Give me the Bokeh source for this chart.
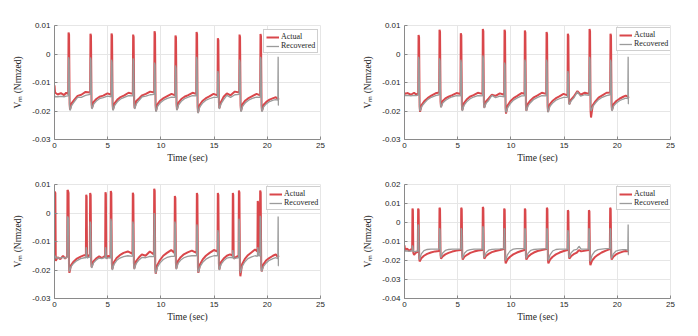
from bokeh.plotting import figure
from bokeh.models import Range1d, Legend, LegendItem, ColumnDataSource
from bokeh.layouts import column, row
from bokeh.embed import file_html
from bokeh.resources import INLINE

# ---------------- data ----------------
series_names = ["Actual", "Recovered"]
x_ticks = [0, 5, 10, 15, 20, 25]
y_ticks_a = [-0.03, -0.02, -0.01, 0, 0.01]
y_labels_a = ["-0.03", "-0.02", "-0.01", "0", "0.01"]
y_ticks_b = [-0.04, -0.03, -0.02, -0.01, 0, 0.01, 0.02]
y_labels_b = ["-0.04", "-0.03", "-0.02", "-0.01", "0", "0.01", "0.02"]
x_label = "Time (sec)"
y_label = "V\u2098 (Nrmzed)"

# Panel 1 (top left)
t1 = [0.00, 0.05, 0.30, 0.60, 0.90, 1.10, 1.29,
      1.32, 1.37, 1.42, 1.46, 1.62, 1.87, 2.17, 2.52, 2.92, 3.35,
      3.38, 3.43, 3.48, 3.52, 3.68, 3.93, 4.23, 4.58, 4.98, 5.33,
      5.36, 5.41, 5.46, 5.50, 5.66, 5.91, 6.21, 6.56, 6.96, 7.36,
      7.39, 7.44, 7.49, 7.53, 7.69, 7.94, 8.24, 8.59, 8.99, 9.37,
      9.40, 9.45, 9.50, 9.54, 9.70, 9.95, 10.25, 10.60, 11.00, 11.34,
      11.37, 11.42, 11.47, 11.51, 11.67, 11.92, 12.22, 12.57, 12.97, 13.32,
      13.35, 13.40, 13.45, 13.49, 13.65, 13.90, 14.20, 14.55, 14.95, 15.32,
      15.35, 15.40, 15.45, 15.49, 15.65, 15.90, 16.20, 16.55, 16.95, 17.36,
      17.39, 17.44, 17.49, 17.53, 17.69, 17.94, 18.24, 18.59, 18.99, 19.33,
      19.36, 19.41, 19.46, 19.50, 19.66, 19.91, 20.21, 20.56, 20.80, 20.99,
      21.02, 21.04, 21.06]
act1 = [-0.0110, -0.0135, -0.0142, -0.0137, -0.0144, -0.0136, -0.0140,
        0.0075, 0.0068, -0.0175, -0.0195, -0.0172, -0.0160, -0.0147, -0.0143, -0.0133, -0.0135,
        0.0071, 0.0064, -0.0170, -0.0190, -0.0168, -0.0158, -0.0150, -0.0146, -0.0138, -0.0143,
        0.0072, 0.0065, -0.0175, -0.0195, -0.0172, -0.0160, -0.0151, -0.0145, -0.0136, -0.0140,
        0.0068, 0.0060, -0.0170, -0.0190, -0.0165, -0.0156, -0.0145, -0.0140, -0.0132, -0.0135,
        0.0080, 0.0072, -0.0180, -0.0200, -0.0175, -0.0163, -0.0155, -0.0148, -0.0140, -0.0145,
        0.0065, 0.0058, -0.0175, -0.0195, -0.0170, -0.0158, -0.0150, -0.0144, -0.0136, -0.0140,
        0.0077, 0.0070, -0.0185, -0.0205, -0.0178, -0.0165, -0.0156, -0.0149, -0.0140, -0.0145,
        0.0055, 0.0048, -0.0170, -0.0190, -0.0168, -0.0150, -0.0138, -0.0145, -0.0132, -0.0135,
        0.0068, 0.0060, -0.0180, -0.0200, -0.0175, -0.0163, -0.0155, -0.0148, -0.0140, -0.0145,
        0.0070, 0.0062, -0.0180, -0.0200, -0.0178, -0.0168, -0.0160, -0.0155, -0.0152, -0.0157,
        -0.0155, -0.0160, -0.0160]
rec1 = [-0.0145, -0.0150, -0.0150, -0.0149, -0.0150, -0.0148, -0.0147,
        -0.0011, -0.0020, -0.0185, -0.0198, -0.0180, -0.0167, -0.0152, -0.0152, -0.0145, -0.0142,
        -0.0012, -0.0022, -0.0180, -0.0193, -0.0176, -0.0165, -0.0157, -0.0153, -0.0148, -0.0150,
        -0.0020, -0.0030, -0.0185, -0.0198, -0.0180, -0.0168, -0.0158, -0.0152, -0.0146, -0.0147,
        -0.0015, -0.0025, -0.0180, -0.0193, -0.0175, -0.0163, -0.0150, -0.0148, -0.0143, -0.0142,
        -0.0030, -0.0040, -0.0190, -0.0203, -0.0183, -0.0171, -0.0162, -0.0156, -0.0151, -0.0152,
        -0.0040, -0.0050, -0.0185, -0.0198, -0.0178, -0.0166, -0.0157, -0.0151, -0.0146, -0.0147,
        -0.0010, -0.0020, -0.0195, -0.0208, -0.0186, -0.0173, -0.0163, -0.0157, -0.0152, -0.0152,
        -0.0060, -0.0070, -0.0180, -0.0193, -0.0175, -0.0160, -0.0145, -0.0152, -0.0143, -0.0142,
        -0.0020, -0.0030, -0.0190, -0.0203, -0.0183, -0.0171, -0.0162, -0.0156, -0.0151, -0.0152,
        -0.0010, -0.0020, -0.0190, -0.0203, -0.0185, -0.0175, -0.0167, -0.0162, -0.0160, -0.0162,
        -0.0010, -0.0180, -0.0180]

# Panel 2 (top right)
t2 = [0.00, 0.05, 0.30, 0.60, 0.90, 1.10, 1.29,
      1.32, 1.37, 1.42, 1.46, 1.62, 1.87, 2.17, 2.52, 2.92, 3.26,
      3.29, 3.34, 3.39, 3.43, 3.59, 3.84, 4.14, 4.49, 4.89, 5.26,
      5.29, 5.34, 5.39, 5.43, 5.59, 5.84, 6.14, 6.49, 6.89, 7.33,
      7.36, 7.41, 7.46, 7.50, 7.66, 7.91, 8.21, 8.56, 8.96, 9.37,
      9.40, 9.45, 9.50, 9.54, 9.70, 9.95, 10.25, 10.60, 11.00, 11.28,
      11.31, 11.36, 11.41, 11.45, 11.61, 11.86, 12.16, 12.51, 12.91, 13.32,
      13.35, 13.40, 13.45, 13.49, 13.65, 13.90, 14.20, 14.55, 14.95, 15.32,
      15.35, 15.40, 15.45, 15.49, 15.65, 15.90, 16.25, 16.55, 16.95, 17.36,
      17.39, 17.44, 17.49, 17.53, 17.69, 17.94, 18.24, 18.59, 18.99, 19.33,
      19.36, 19.41, 19.46, 19.50, 19.66, 19.91, 20.21, 20.56, 20.80, 20.99,
      21.02, 21.04, 21.06]
act2 = [-0.0135, -0.0140, -0.0137, -0.0143, -0.0136, -0.0142, -0.0138,
        0.0067, 0.0060, -0.0183, -0.0203, -0.0178, -0.0165, -0.0155, -0.0146, -0.0138, -0.0135,
        0.0085, 0.0078, -0.0166, -0.0186, -0.0165, -0.0156, -0.0150, -0.0144, -0.0137, -0.0140,
        0.0073, 0.0066, -0.0177, -0.0197, -0.0172, -0.0160, -0.0150, -0.0144, -0.0136, -0.0140,
        0.0088, 0.0080, -0.0168, -0.0188, -0.0166, -0.0156, -0.0143, -0.0147, -0.0138, -0.0143,
        0.0085, 0.0078, -0.0189, -0.0209, -0.0180, -0.0166, -0.0155, -0.0147, -0.0137, -0.0140,
        0.0082, 0.0075, -0.0179, -0.0199, -0.0174, -0.0162, -0.0152, -0.0145, -0.0136, -0.0140,
        0.0077, 0.0070, -0.0183, -0.0203, -0.0177, -0.0165, -0.0156, -0.0149, -0.0140, -0.0145,
        0.0071, 0.0064, -0.0160, -0.0176, -0.0160, -0.0150, -0.0130, -0.0143, -0.0136, -0.0140,
        0.0088, 0.0080, -0.0200, -0.0223, -0.0180, -0.0166, -0.0153, -0.0145, -0.0136, -0.0135,
        0.0071, 0.0064, -0.0177, -0.0197, -0.0175, -0.0165, -0.0157, -0.0150, -0.0146, -0.0150,
        -0.0150, -0.0155, -0.0155]
rec2 = [-0.0145, -0.0146, -0.0145, -0.0147, -0.0145, -0.0146, -0.0144,
        -0.0010, -0.0020, -0.0193, -0.0200, -0.0184, -0.0172, -0.0160, -0.0152, -0.0146, -0.0143,
        -0.0015, -0.0025, -0.0176, -0.0188, -0.0172, -0.0163, -0.0156, -0.0150, -0.0146, -0.0147,
        -0.0020, -0.0030, -0.0187, -0.0200, -0.0180, -0.0168, -0.0158, -0.0151, -0.0146, -0.0147,
        -0.0005, -0.0015, -0.0178, -0.0190, -0.0173, -0.0163, -0.0145, -0.0153, -0.0148, -0.0150,
        -0.0030, -0.0040, -0.0199, -0.0205, -0.0188, -0.0174, -0.0162, -0.0154, -0.0147, -0.0147,
        -0.0020, -0.0030, -0.0189, -0.0200, -0.0182, -0.0170, -0.0159, -0.0152, -0.0146, -0.0147,
        -0.0020, -0.0030, -0.0193, -0.0205, -0.0185, -0.0173, -0.0163, -0.0157, -0.0152, -0.0152,
        -0.0060, -0.0070, -0.0168, -0.0178, -0.0165, -0.0155, -0.0133, -0.0148, -0.0143, -0.0145,
        -0.0010, -0.0020, -0.0190, -0.0200, -0.0185, -0.0172, -0.0160, -0.0152, -0.0146, -0.0143,
        -0.0020, -0.0030, -0.0187, -0.0200, -0.0182, -0.0172, -0.0164, -0.0158, -0.0155, -0.0157,
        -0.0010, -0.0175, -0.0175]

# Panel 3 (bottom left)
t3 = [0.00, 0.03, 0.08, 0.12, 0.30, 0.55, 0.80, 1.00, 1.19,
      1.22, 1.27, 1.32, 1.36, 1.40, 1.56, 1.81, 2.11, 2.46, 2.80, 2.95,
      2.98, 3.02, 3.06, 3.20, 3.32,
      3.35, 3.40, 3.45, 3.49, 3.65, 3.90, 4.20, 4.45, 4.76,
      4.79, 4.83, 4.87, 5.05, 5.26,
      5.29, 5.34, 5.39, 5.43, 5.59, 5.84, 6.14, 6.49, 6.89, 7.33,
      7.36, 7.41, 7.46, 7.50, 7.66, 7.91, 8.21, 8.56, 8.96, 9.34,
      9.37, 9.42, 9.47, 9.51, 9.67, 9.92, 10.22, 10.57, 10.97, 11.28,
      11.31, 11.36, 11.41, 11.45, 11.61, 11.86, 12.16, 12.51, 12.91, 13.35,
      13.38, 13.43, 13.48, 13.52, 13.68, 13.93, 14.23, 14.58, 14.98, 15.32,
      15.35, 15.40, 15.45, 15.49, 15.65, 15.90, 16.20, 16.50, 16.73,
      16.76, 16.80, 16.84, 17.05, 17.30,
      17.33, 17.38, 17.43, 17.47, 17.63, 17.88, 18.18, 18.53, 18.85, 19.07,
      19.10, 19.14, 19.18, 19.30,
      19.33, 19.38, 19.43, 19.47, 19.63, 19.88, 20.18, 20.53, 20.80, 20.99,
      21.02, 21.04, 21.06]
act3 = [-0.0120, 0.0075, 0.0070, -0.0168, -0.0155, -0.0162, -0.0150, -0.0160, -0.0152,
        0.0081, 0.0078, 0.0070, -0.0180, -0.0210, -0.0183, -0.0170, -0.0160, -0.0153, -0.0148, -0.0150,
        0.0064, 0.0058, -0.0155, -0.0150, -0.0145,
        0.0070, 0.0063, -0.0170, -0.0190, -0.0170, -0.0160, -0.0152, -0.0158, -0.0150,
        0.0073, 0.0066, -0.0160, -0.0150, -0.0155,
        0.0077, 0.0070, -0.0177, -0.0197, -0.0172, -0.0158, -0.0148, -0.0140, -0.0135, -0.0143,
        0.0071, 0.0064, -0.0175, -0.0195, -0.0170, -0.0157, -0.0145, -0.0150, -0.0135, -0.0145,
        0.0085, 0.0078, -0.0193, -0.0213, -0.0182, -0.0165, -0.0150, -0.0140, -0.0130, -0.0140,
        0.0060, 0.0053, -0.0175, -0.0195, -0.0168, -0.0155, -0.0145, -0.0138, -0.0132, -0.0140,
        0.0070, 0.0063, -0.0190, -0.0210, -0.0180, -0.0163, -0.0150, -0.0140, -0.0130, -0.0135,
        0.0070, 0.0063, -0.0178, -0.0198, -0.0172, -0.0160, -0.0150, -0.0145, -0.0150,
        0.0070, 0.0063, -0.0160, -0.0155, -0.0150,
        0.0079, 0.0072, -0.0202, -0.0222, -0.0180, -0.0162, -0.0148, -0.0138, -0.0128, -0.0135,
        0.0042, 0.0036, -0.0140, -0.0135,
        0.0079, 0.0072, -0.0185, -0.0205, -0.0180, -0.0167, -0.0158, -0.0150, -0.0145, -0.0155,
        -0.0150, -0.0155, -0.0155]
rec3 = [-0.0155, -0.0150, -0.0152, -0.0158, -0.0157, -0.0158, -0.0156, -0.0158, -0.0156,
        -0.0012, -0.0015, -0.0020, -0.0190, -0.0205, -0.0188, -0.0176, -0.0167, -0.0160, -0.0157, -0.0157,
        -0.0120, -0.0130, -0.0158, -0.0156, -0.0155,
        -0.0030, -0.0040, -0.0180, -0.0193, -0.0176, -0.0166, -0.0158, -0.0160, -0.0156,
        -0.0120, -0.0130, -0.0160, -0.0157, -0.0158,
        -0.0020, -0.0030, -0.0187, -0.0200, -0.0180, -0.0167, -0.0158, -0.0153, -0.0150, -0.0152,
        -0.0030, -0.0040, -0.0185, -0.0198, -0.0178, -0.0166, -0.0156, -0.0157, -0.0152, -0.0153,
        0.0000, -0.0010, -0.0203, -0.0212, -0.0190, -0.0175, -0.0163, -0.0156, -0.0152, -0.0152,
        -0.0030, -0.0040, -0.0185, -0.0198, -0.0177, -0.0165, -0.0157, -0.0152, -0.0150, -0.0150,
        -0.0040, -0.0050, -0.0200, -0.0208, -0.0188, -0.0173, -0.0162, -0.0155, -0.0150, -0.0150,
        -0.0060, -0.0070, -0.0188, -0.0200, -0.0180, -0.0168, -0.0158, -0.0156, -0.0157,
        -0.0130, -0.0140, -0.0160, -0.0158, -0.0157,
        -0.0020, -0.0030, -0.0200, -0.0210, -0.0188, -0.0172, -0.0160, -0.0154, -0.0150, -0.0152,
        -0.0120, -0.0130, -0.0150, -0.0150,
        -0.0010, -0.0020, -0.0195, -0.0205, -0.0188, -0.0176, -0.0166, -0.0160, -0.0157, -0.0160,
        -0.0012, -0.0185, -0.0185]

# Panel 4 (bottom right)
t4 = [0.00, 0.05, 0.25, 0.45, 0.62, 0.72,
      0.75, 0.79, 0.83, 0.90, 1.05, 1.25,
      1.28, 1.33, 1.38, 1.42, 1.58, 1.83, 2.13, 2.48, 2.88, 3.26,
      3.29, 3.34, 3.39, 3.43, 3.59, 3.84, 4.14, 4.49, 4.89, 5.30,
      5.33, 5.38, 5.43, 5.47, 5.63, 5.88, 6.18, 6.53, 6.93, 7.33,
      7.36, 7.41, 7.46, 7.50, 7.66, 7.91, 8.21, 8.56, 8.96, 9.34,
      9.37, 9.42, 9.47, 9.51, 9.67, 9.92, 10.22, 10.57, 10.97, 11.28,
      11.31, 11.36, 11.41, 11.45, 11.61, 11.86, 12.16, 12.51, 12.91, 13.35,
      13.38, 13.43, 13.48, 13.52, 13.68, 13.93, 14.23, 14.58, 14.98, 15.32,
      15.35, 15.40, 15.45, 15.49, 15.65, 15.90, 16.20, 16.40, 16.60, 17.30,
      17.33, 17.38, 17.43, 17.47, 17.63, 17.88, 18.18, 18.53, 18.93, 19.30,
      19.33, 19.38, 19.43, 19.47, 19.63, 19.88, 20.18, 20.53, 20.80, 20.99,
      21.02, 21.04, 21.06]
act4 = [-0.0120, -0.0145, -0.0138, -0.0150, -0.0140, -0.0145,
        0.0073, 0.0066, -0.0160, -0.0170, -0.0160, -0.0155,
        0.0073, 0.0066, -0.0185, -0.0205, -0.0188, -0.0175, -0.0165, -0.0158, -0.0152, -0.0150,
        0.0078, 0.0071, -0.0170, -0.0190, -0.0178, -0.0168, -0.0160, -0.0153, -0.0148, -0.0145,
        0.0078, 0.0071, -0.0175, -0.0195, -0.0180, -0.0170, -0.0160, -0.0153, -0.0147, -0.0145,
        0.0082, 0.0075, -0.0170, -0.0190, -0.0176, -0.0165, -0.0156, -0.0150, -0.0145, -0.0140,
        0.0073, 0.0066, -0.0195, -0.0215, -0.0195, -0.0180, -0.0168, -0.0158, -0.0150, -0.0145,
        0.0073, 0.0066, -0.0175, -0.0195, -0.0180, -0.0168, -0.0158, -0.0150, -0.0145, -0.0140,
        0.0078, 0.0071, -0.0195, -0.0215, -0.0195, -0.0180, -0.0168, -0.0158, -0.0150, -0.0145,
        0.0065, 0.0058, -0.0170, -0.0190, -0.0178, -0.0167, -0.0158, -0.0145, -0.0152, -0.0145,
        0.0065, 0.0058, -0.0205, -0.0225, -0.0200, -0.0183, -0.0170, -0.0158, -0.0148, -0.0140,
        0.0078, 0.0071, -0.0175, -0.0195, -0.0180, -0.0168, -0.0160, -0.0153, -0.0150, -0.0152,
        -0.0150, -0.0152, -0.0152]
rec4 = [-0.0140, -0.0150, -0.0150, -0.0152, -0.0150, -0.0150,
        -0.0120, -0.0130, -0.0150, -0.0155, -0.0152, -0.0150,
        -0.0010, -0.0020, -0.0190, -0.0195, -0.0165, -0.0148, -0.0142, -0.0140, -0.0140, -0.0140,
        -0.0030, -0.0040, -0.0175, -0.0185, -0.0160, -0.0147, -0.0142, -0.0140, -0.0140, -0.0140,
        -0.0030, -0.0040, -0.0180, -0.0188, -0.0162, -0.0148, -0.0143, -0.0140, -0.0140, -0.0140,
        -0.0020, -0.0030, -0.0175, -0.0185, -0.0160, -0.0146, -0.0141, -0.0140, -0.0139, -0.0138,
        -0.0030, -0.0040, -0.0195, -0.0200, -0.0170, -0.0150, -0.0140, -0.0137, -0.0137, -0.0138,
        -0.0030, -0.0040, -0.0180, -0.0188, -0.0162, -0.0147, -0.0142, -0.0140, -0.0139, -0.0138,
        -0.0030, -0.0040, -0.0195, -0.0200, -0.0170, -0.0150, -0.0142, -0.0140, -0.0140, -0.0140,
        -0.0040, -0.0050, -0.0175, -0.0185, -0.0160, -0.0146, -0.0142, -0.0125, -0.0140, -0.0140,
        -0.0030, -0.0040, -0.0200, -0.0205, -0.0172, -0.0152, -0.0143, -0.0140, -0.0138, -0.0137,
        -0.0030, -0.0040, -0.0180, -0.0188, -0.0165, -0.0150, -0.0145, -0.0143, -0.0143, -0.0145,
        -0.0010, -0.0170, -0.0170]

# ---------------- styling ----------------
RED = "#d9474b"
GRAY = "#9b9b9b"
GRID = "#e6e6e6"
AXIS = "#8a8a8a"
TXT = "#262626"


def make_panel(t, act, rec, yticks, ylabels, borders, legend_xy):
    b_left, b_right, b_top = borders
    p = figure(frame_width=266, frame_height=114,
               min_border_left=b_left, min_border_right=b_right,
               min_border_top=b_top, min_border_bottom=28,
               x_range=Range1d(x_ticks[0], x_ticks[-1]),
               y_range=Range1d(yticks[0], yticks[-1]),
               output_backend="svg", toolbar_location=None)
    src = ColumnDataSource(dict(t=t, act=act, rec=rec))
    r_act = p.line("t", "act", source=src, line_color=RED, line_width=2.0)
    r_rec = p.line("t", "rec", source=src, line_color=GRAY, line_width=1.3)

    p.xaxis.ticker = x_ticks
    p.yaxis.ticker = yticks
    p.yaxis.major_label_overrides = {v: s for v, s in zip(yticks, ylabels)}
    p.xaxis.axis_label = x_label
    p.yaxis.axis_label = y_label
    for ax in (p.xaxis[0], p.yaxis[0]):
        ax.axis_line_color = AXIS
        ax.major_tick_line_color = AXIS
        ax.major_tick_in = 3
        ax.major_tick_out = 0
        ax.minor_tick_line_color = None
        ax.major_label_text_font = "Liberation Sans"
        ax.major_label_text_font_size = "8px"
        ax.major_label_text_color = TXT
        ax.axis_label_text_font = "Liberation Serif"
        ax.axis_label_text_font_size = "9.5px"
        ax.axis_label_text_font_style = "normal"
        ax.axis_label_text_color = TXT
    p.xaxis.major_label_standoff = 3
    p.xaxis.axis_label_standoff = 2
    p.yaxis.major_label_standoff = 4
    p.yaxis.axis_label_standoff = 6
    p.xgrid.grid_line_color = GRID
    p.ygrid.grid_line_color = GRID
    p.outline_line_color = GRID
    p.background_fill_color = "white"
    p.border_fill_color = "white"

    legend = Legend(items=[LegendItem(label=series_names[0], renderers=[r_act]),
                           LegendItem(label=series_names[1], renderers=[r_rec])],
                    location=legend_xy)
    legend.label_text_font = "Liberation Serif"
    legend.label_text_font_size = "8px"
    legend.label_text_color = TXT
    legend.glyph_width = 13
    legend.glyph_height = 8
    legend.label_height = 8
    legend.label_standoff = 2
    legend.spacing = 0
    legend.padding = 2
    legend.margin = 0
    legend.border_line_color = "#a0a0a0"
    legend.border_line_width = 1
    legend.background_fill_alpha = 1
    p.add_layout(legend)
    return p


p1 = make_panel(t1, act1, rec1, y_ticks_a, y_labels_a, (54, 38, 25), (209, 86))
p2 = make_panel(t2, act2, rec2, y_ticks_a, y_labels_a, (46, 20, 25), (212, 88))
p3 = make_panel(t3, act3, rec3, y_ticks_a, y_labels_a, (54, 38, 17), (212, 88))
p4 = make_panel(t4, act4, rec4, y_ticks_b, y_labels_b, (46, 20, 17), (212, 88))

layout = column(row(p1, p2), row(p3, p4))
open("out.html", "w").write(file_html(layout, INLINE))
